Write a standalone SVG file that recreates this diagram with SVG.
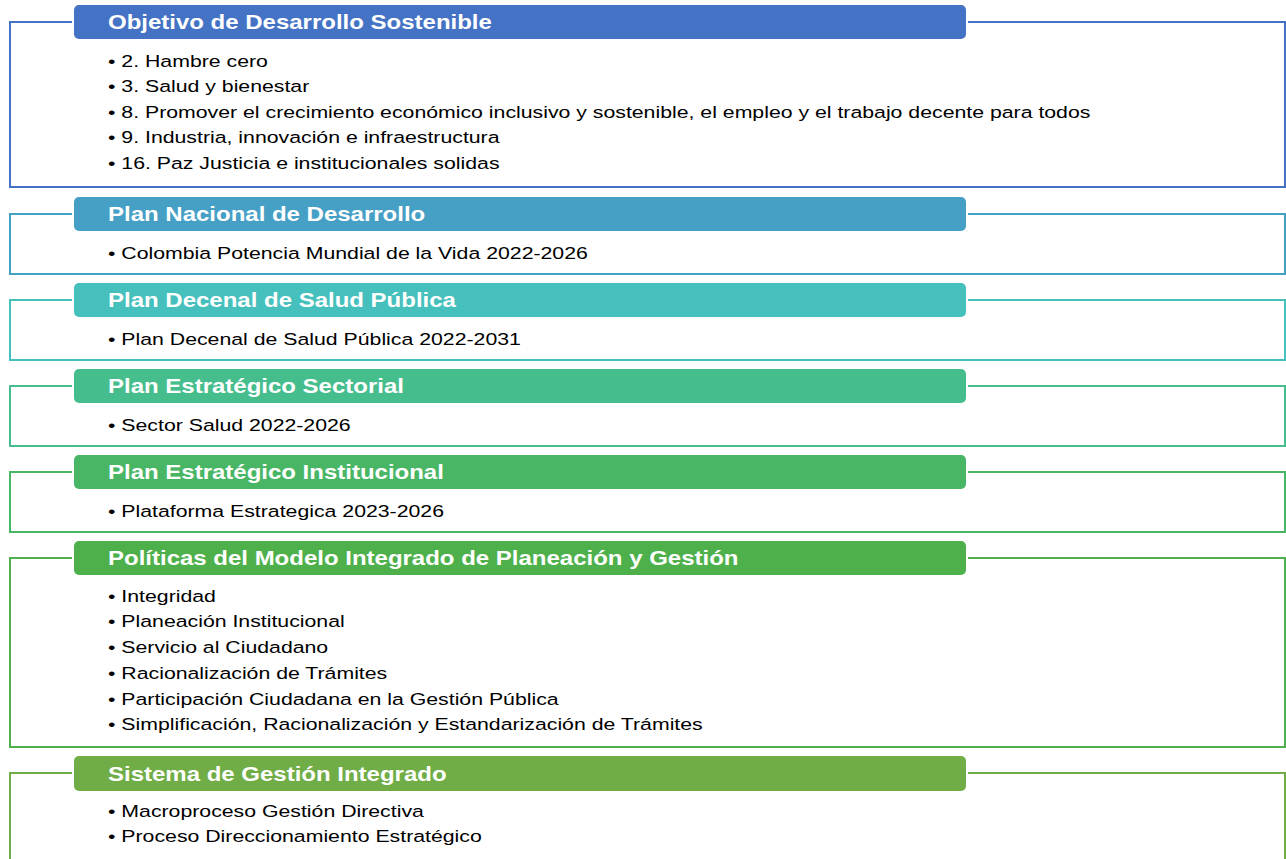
<svg xmlns="http://www.w3.org/2000/svg" width="1286" height="859" viewBox="0 0 1286 859">
<style>
.frame{fill:none;stroke-width:2}
.hdr{stroke:none}
.ht{font-family:"Liberation Sans",Arial,sans-serif;font-weight:bold;font-size:20px;fill:#ffffff}
.bt{font-family:"Liberation Sans",Arial,sans-serif;font-size:17.3px;fill:#000000}
</style>
<rect width="1286" height="859" fill="#ffffff"/>
<g id="connectors">
<path class="frame" stroke="#4472C4" d="M72,22 H10 V187 H1285 V22 H968"/>
<path class="frame" stroke="#469FC5" d="M72,214 H10 V274 H1285 V214 H968"/>
<path class="frame" stroke="#46C0BC" d="M72,300 H10 V360 H1285 V300 H968"/>
<path class="frame" stroke="#46BD8D" d="M72,386 H10 V446 H1285 V386 H968"/>
<path class="frame" stroke="#48B664" d="M72,472 H10 V532 H1285 V472 H968"/>
<path class="frame" stroke="#4DB04A" d="M72,558 H10 V747 H1285 V558 H968"/>
<path class="frame" stroke="#70AD47" d="M72,773 H10 V860 M968,773 H1285 V860"/>
</g>
<g id="ods">
<rect class="hdr" x="74" y="5" width="892" height="34" rx="5" fill="#4472C4"/>
<text class="ht" transform="translate(108,29) scale(1.2,1)">Objetivo de Desarrollo Sostenible</text>
<text class="bt" transform="translate(108,66.5) scale(1.23,1)">• 2. Hambre cero</text>
<text class="bt" transform="translate(108,92) scale(1.23,1)">• 3. Salud y bienestar</text>
<text class="bt" transform="translate(108,117.5) scale(1.23,1)">• 8. Promover el crecimiento económico inclusivo y sostenible, el empleo y el trabajo decente para todos</text>
<text class="bt" transform="translate(108,143) scale(1.23,1)">• 9. Industria, innovación e infraestructura</text>
<text class="bt" transform="translate(108,168.5) scale(1.23,1)">• 16. Paz Justicia e institucionales solidas</text>
</g>
<g id="pnd">
<rect class="hdr" x="74" y="197" width="892" height="34" rx="5" fill="#469FC5"/>
<text class="ht" transform="translate(108,221) scale(1.2,1)">Plan Nacional de Desarrollo</text>
<text class="bt" transform="translate(108,258.5) scale(1.23,1)">• Colombia Potencia Mundial de la Vida 2022-2026</text>
</g>
<g id="pdsp">
<rect class="hdr" x="74" y="283" width="892" height="34" rx="5" fill="#46C0BC"/>
<text class="ht" transform="translate(108,307) scale(1.2,1)">Plan Decenal de Salud Pública</text>
<text class="bt" transform="translate(108,344.5) scale(1.23,1)">• Plan Decenal de Salud Pública 2022-2031</text>
</g>
<g id="pes">
<rect class="hdr" x="74" y="369" width="892" height="34" rx="5" fill="#46BD8D"/>
<text class="ht" transform="translate(108,393) scale(1.2,1)">Plan Estratégico Sectorial</text>
<text class="bt" transform="translate(108,430.5) scale(1.23,1)">• Sector Salud 2022-2026</text>
</g>
<g id="pei">
<rect class="hdr" x="74" y="455" width="892" height="34" rx="5" fill="#48B664"/>
<text class="ht" transform="translate(108,479) scale(1.2,1)">Plan Estratégico Institucional</text>
<text class="bt" transform="translate(108,516.5) scale(1.23,1)">• Plataforma Estrategica 2023-2026</text>
</g>
<g id="mipg">
<rect class="hdr" x="74" y="541" width="892" height="34" rx="5" fill="#4DB04A"/>
<text class="ht" transform="translate(108,565) scale(1.2,1)">Políticas del Modelo Integrado de Planeación y Gestión</text>
<text class="bt" transform="translate(108,601.7) scale(1.23,1)">• Integridad</text>
<text class="bt" transform="translate(108,627.4) scale(1.23,1)">• Planeación Institucional</text>
<text class="bt" transform="translate(108,653.1) scale(1.23,1)">• Servicio al Ciudadano</text>
<text class="bt" transform="translate(108,678.8) scale(1.23,1)">• Racionalización de Trámites</text>
<text class="bt" transform="translate(108,704.5) scale(1.23,1)">• Participación Ciudadana en la Gestión Pública</text>
<text class="bt" transform="translate(108,730.2) scale(1.23,1)">• Simplificación, Racionalización y Estandarización de Trámites</text>
</g>
<g id="sgi">
<rect class="hdr" x="74" y="756" width="892" height="35" rx="5" fill="#70AD47"/>
<text class="ht" transform="translate(108,780.5) scale(1.2,1)">Sistema de Gestión Integrado</text>
<text class="bt" transform="translate(108,817.3) scale(1.23,1)">• Macroproceso Gestión Directiva</text>
<text class="bt" transform="translate(108,842.3) scale(1.23,1)">• Proceso Direccionamiento Estratégico</text>
</g>
</svg>
